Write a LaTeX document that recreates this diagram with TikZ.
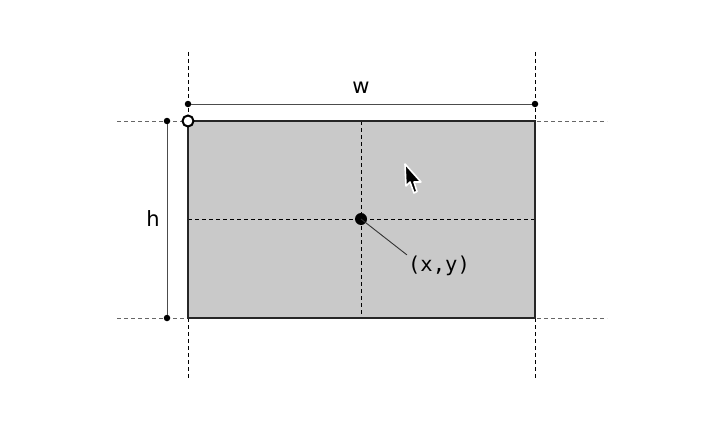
\documentclass[tikz,border=0pt]{standalone}
\usepackage{fontspec}
\setmainfont{DejaVu Sans}
\setmonofont{DejaVu Sans Mono}
\begin{document}
\begin{tikzpicture}[x=1pt, y=-1pt,
    guide/.style={line width=0.8pt, dash pattern=on 4pt off 3pt},
    dimline/.style={line width=1pt, black!70},
    enddot/.style={circle, fill=black, inner sep=0pt, minimum size=6.5pt},
    lbl/.style={font=\fontsize{21}{24}\selectfont}]
  \useasboundingbox (0,0) rectangle (728,428);

  % Outer guides
  \draw[guide] (188,52) -- (188,380);
  \draw[guide] (535,52) -- (535,380);
  \draw[guide, black!60] (117,121) -- (607,121);
  \draw[guide, black!60] (117,318) -- (607,318);

  % Box
  \fill[black!21] (188,121) rectangle (535,318);
  \draw[guide] (361,121) -- (361,318);
  \draw[guide] (188,219) -- (535,219);
  \draw[line width=1.6pt, black!85] (188,121) rectangle (535,318);

  % Width
  \node[enddot] (wl) at (188,104) {};
  \node[enddot] (wr) at (535,104) {};
  \draw[dimline] (wl) -- (wr);
  \node[lbl] (w) at (361,88) {w};

  % Height
  \node[enddot] (ht) at (167,121) {};
  \node[enddot] (hb) at (167,318) {};
  \draw[dimline] (ht) -- (hb);
  \node[lbl] (h) at (153,219) {h};

  % Origin and centre
  \node[circle, draw, line width=2pt, fill=white, inner sep=0pt, minimum size=11pt] (o) at (188,121) {};
  \node[circle, fill=black, inner sep=0pt, minimum size=12pt] (c) at (361,219) {};
  \node[lbl, font=\ttfamily\fontsize{20.5}{24}\selectfont, inner sep=1pt] (xy) at (439,266) {(x,y)};
  \draw[line width=0.9pt, black!80] (c.center) -- (xy.north west);

  % Pointer
  \draw[white, line width=1.6pt, fill=black, line join=round]
    (405,164) -- (406,186) -- (410,182) -- (414,193) -- (417,191.5)
    -- (414,182) -- (421,182) -- cycle;
\end{tikzpicture}
\end{document}
